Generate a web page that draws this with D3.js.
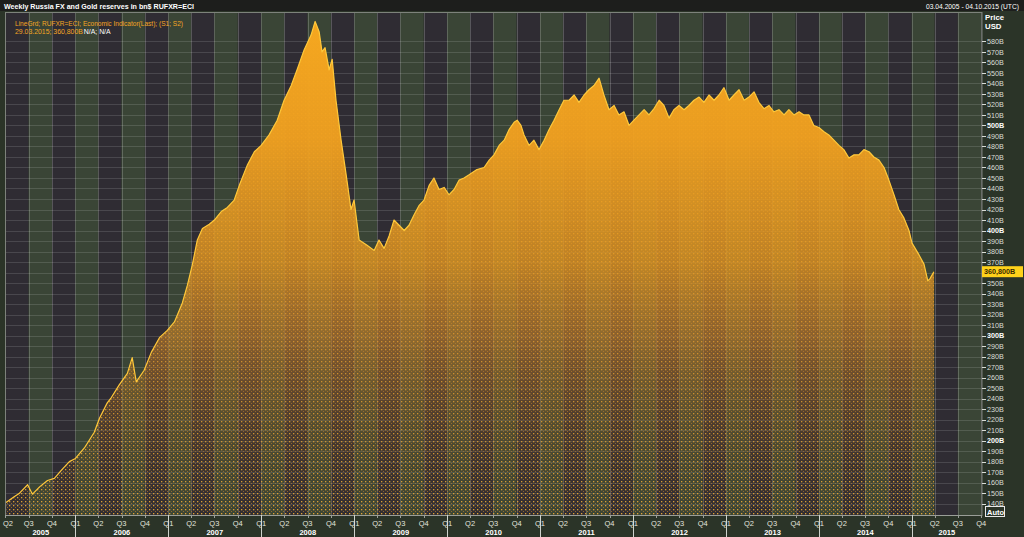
<!DOCTYPE html>
<html><head><meta charset="utf-8">
<script src="https://cdn.jsdelivr.net/npm/d3@7"></script>
<style>
html,body{margin:0;padding:0;background:#2b3428;overflow:hidden;}
svg{display:block;font-family:"Liberation Sans",Arial,sans-serif;}
</style>
</head><body>
<svg id="chart" width="1024" height="537"></svg>
<script>
// ---------- data ----------
const chartTitle = "Weekly Russia FX and Gold reserves in bn$ RUFXR=ECI";
const dateRangeText = "03.04.2005 - 04.10.2015 (UTC)";
const legendLine1 = "LineGrd; RUFXR=ECI; Economic Indicator(Last); (S1; S2)";
const legendLine2a = "29.03.2015; 360,800B";
const legendLine2b = "N/A; N/A";
const axisTitle = ["Price", "USD"];
const lastValueLabel = "360,800B";

const dates = [
"2005-04-03","2005-05-02","2005-05-26","2005-06-27","2005-07-16","2005-08-13","2005-09-13","2005-10-10","2005-11-07","2005-12-08",
"2006-01-01","2006-02-05","2006-03-16","2006-04-05","2006-05-06","2006-05-22","2006-06-22","2006-07-24","2006-08-12","2006-08-28",
"2006-09-28","2006-10-26","2006-11-27","2006-12-28","2007-01-25","2007-02-25","2007-03-17","2007-04-05","2007-04-25","2007-05-15",
"2007-06-11","2007-07-01","2007-07-28","2007-08-21","2007-09-17","2007-10-07","2007-11-07","2007-12-05","2008-01-01","2008-02-01",
"2008-03-04","2008-03-31","2008-04-28","2008-05-21","2008-06-18","2008-07-15","2008-07-31","2008-08-16","2008-08-27","2008-09-08",
"2008-09-24","2008-10-06","2008-10-21","2008-11-10","2008-11-30","2008-12-19","2008-12-31","2009-01-20","2009-02-20","2009-03-20",
"2009-04-08","2009-04-28","2009-05-18","2009-06-06","2009-06-26","2009-07-16","2009-08-04","2009-08-24","2009-09-13","2009-10-02",
"2009-10-22","2009-11-10","2009-11-30","2009-12-20","2010-01-08","2010-01-28","2010-02-17","2010-03-08","2010-03-28","2010-04-28",
"2010-05-26","2010-06-15","2010-07-04","2010-07-24","2010-08-13","2010-09-01","2010-09-21","2010-10-03","2010-10-18","2010-10-30",
"2010-11-19","2010-12-08","2010-12-28","2011-01-17","2011-02-05","2011-02-25","2011-03-17","2011-04-05","2011-04-25","2011-05-15",
"2011-06-03","2011-06-23","2011-07-12","2011-08-01","2011-08-21","2011-09-09","2011-09-29","2011-10-19","2011-11-07","2011-11-27",
"2011-12-17","2012-01-05","2012-01-25","2012-02-14","2012-03-04","2012-03-24","2012-04-13","2012-05-02","2012-05-22","2012-06-10",
"2012-06-30","2012-07-20","2012-08-08","2012-08-28","2012-09-17","2012-10-06","2012-10-26","2012-11-15","2012-12-04","2012-12-24",
"2013-01-13","2013-02-01","2013-02-21","2013-03-13","2013-04-01","2013-04-21","2013-05-10","2013-05-30","2013-06-19","2013-07-08",
"2013-07-28","2013-08-17","2013-09-05","2013-09-25","2013-10-15","2013-11-03","2013-11-23","2013-12-12","2014-01-01","2014-01-21",
"2014-02-09","2014-03-01","2014-03-21","2014-04-09","2014-04-29","2014-05-19","2014-06-07","2014-06-27","2014-07-17","2014-08-05",
"2014-08-25","2014-09-14","2014-10-03","2014-10-23","2014-11-11","2014-12-01","2014-12-21","2015-01-02","2015-01-29","2015-02-18",
"2015-03-05","2015-03-13","2015-03-29"
];
const values = [
141,146,150,158,149,156,162,164,172,180,
183,193,208,221,236,241,253,264,279,256,
267,284,298,305,313,331,348,367,391,402,
406,410,418,422,429,443,462,475,481,491,
505,524,538,553,572,586,599,589,570,574,
553,563,524,486,453,420,429,391,386,381,
391,383,395,410,405,400,405,415,424,429,
443,450,439,441,434,439,448,450,453,458,
460,467,472,481,486,496,503,505,500,491,
481,486,477,486,496,505,515,524,524,529,
522,529,534,538,545,529,515,519,510,513,
500,505,510,515,510,516,524,519,507,515,
519,515,519,524,527,522,529,524,529,536,
524,529,534,524,527,532,522,516,519,513,
515,510,515,510,513,510,510,500,498,494,
491,486,481,477,469,472,472,477,475,470,
467,460,448,434,420,412,400,388,377,368,
352,354,360.8
];
const yTickValues = d3.range(140, 581, 10);
const quarterNames = ["Q1","Q2","Q3","Q4"];
const years = [2005,2006,2007,2008,2009,2010,2011,2012,2013,2014,2015];

// ---------- layout ----------
const W = 1024, H = 537;
const L = 6, R = 982, T = 12, B = 515;
const parse = d3.utcParse("%Y-%m-%d");
const data = dates.map((d,i)=>({date:parse(d), value:values[i]}));
const domainStart = parse("2005-04-03"), domainEnd = parse("2015-10-04");

const x = d3.scaleUtc().domain([domainStart, domainEnd]).range([L, R]);
const y = d3.scaleLinear().domain([129.2, 608]).range([B, T]);

const svg = d3.select("#chart");
const defs = svg.append("defs");

// background
svg.append("rect").attr("width",W).attr("height",H).attr("fill","#2b3428");
svg.append("rect").attr("width",W).attr("height",11).attr("fill","#1d1e1c");

defs.append("clipPath").attr("id","plotClip")
  .append("rect").attr("x",L).attr("y",T).attr("width",R-L).attr("height",B-T);

const plot = svg.append("g").attr("clip-path","url(#plotClip)");

// quarter bands
const quarters = d3.utcMonth.every(3).range(parse("2005-04-01"), parse("2015-10-02"));
const bandEdges = quarters.concat([d3.utcMonth.offset(quarters[quarters.length-1],3)]);
plot.selectAll("rect.band").data(quarters).join("rect")
  .attr("class","band")
  .attr("x", d=>x(d))
  .attr("y", T)
  .attr("width", (d,i)=>x(bandEdges[i+1])-x(d))
  .attr("height", B-T)
  .attr("fill", d => (d.getUTCMonth()/3)%2===0 ? "#3a4536" : "#2f2c33");

// horizontal grid lines
plot.selectAll("line.hg").data(yTickValues).join("line")
  .attr("x1",L).attr("x2",R)
  .attr("y1",d=>Math.round(y(d))+0.5).attr("y2",d=>Math.round(y(d))+0.5)
  .attr("stroke","#ffffff").attr("stroke-opacity",0.13).attr("stroke-width",1);

// vertical grid lines
plot.selectAll("line.vg").data(quarters).join("line")
  .attr("x1",d=>Math.round(x(d))+0.5).attr("x2",d=>Math.round(x(d))+0.5)
  .attr("y1",T).attr("y2",B)
  .attr("stroke","#ffffff").attr("stroke-opacity",0.2).attr("stroke-width",1);

// fill: dot pattern + vertical gradient
const pat = defs.append("pattern").attr("id","dots").attr("patternUnits","userSpaceOnUse")
  .attr("width",4).attr("height",4);
pat.append("rect").attr("x",1).attr("y",1).attr("width",1.3).attr("height",1.3).attr("fill","#f6b335");
pat.append("rect").attr("x",3).attr("y",3).attr("width",1).attr("height",1).attr("fill","#d08a25").attr("opacity",0.7);

const grad = defs.append("linearGradient").attr("id","fillGrad")
  .attr("gradientUnits","userSpaceOnUse").attr("x1",0).attr("x2",0).attr("y1",T).attr("y2",B);
[[0,"#f6a81f",1],[0.25,"#f0a020",0.96],[0.5,"#e09522",0.8],[0.65,"#c4802a",0.6],[0.8,"#9a6422",0.32],[0.92,"#7a5020",0.14],[1,"#6a4418",0.04]]
  .forEach(s=>grad.append("stop").attr("offset",s[0]).attr("stop-color",s[1]).attr("stop-opacity",s[2]));

const area = d3.area().x(d=>x(d.date)).y0(B).y1(d=>y(d.value)).curve(d3.curveLinear);
const line = d3.line().x(d=>x(d.date)).y(d=>y(d.value)).curve(d3.curveLinear);

plot.append("path").datum(data).attr("d",area).attr("fill","url(#dots)").attr("opacity",0.9);
plot.append("path").datum(data).attr("d",area).attr("fill","url(#fillGrad)");
plot.append("path").datum(data).attr("d",line).attr("fill","none")
  .attr("stroke","#ffc83a").attr("stroke-width",1.2).attr("stroke-linejoin","round");

// plot frame
svg.append("rect").attr("x",L-0.5).attr("y",T+0.5).attr("width",R-L+0.5).attr("height",B-T)
  .attr("fill","none").attr("stroke","#7d827b").attr("stroke-width",1);

// ---------- right axis ----------
const lastV = values[values.length-1];
const ax = svg.append("g");
ax.selectAll("line.yt").data(yTickValues).join("line")
  .attr("x1",R).attr("x2",R+4)
  .attr("y1",d=>Math.round(y(d))+0.5).attr("y2",d=>Math.round(y(d))+0.5)
  .attr("stroke","#d8dcd6").attr("stroke-width",1);
// the tick label hidden under the last-value box is not drawn
ax.selectAll("text.yl").data(yTickValues.filter(v=>Math.abs(y(v)-y(lastV))>7)).join("text")
  .attr("x",R+5).attr("y",d=>y(d)+2.6)
  .attr("font-size",7.2)
  .attr("font-weight",d=>d%100===0?"bold":"normal")
  .attr("fill",d=>d%100===0?"#ffffff":"#dcdfd9")
  .text(d=>d+"B");
ax.selectAll("text.at").data(axisTitle).join("text")
  .attr("x",R+3).attr("y",(d,i)=>20+i*9)
  .attr("font-size",7.8).attr("font-weight","bold").attr("fill","#ffffff")
  .text(d=>d);

// last value label
ax.append("rect").attr("x",R).attr("y",y(lastV)-5.5).attr("width",41).attr("height",11)
  .attr("fill","#ffd21a");
ax.append("text").attr("x",R+2).attr("y",y(lastV)+2.6)
  .attr("font-size",7.2).attr("font-weight","bold").attr("fill","#3a2a00").text(lastValueLabel);

// Auto box
ax.append("rect").attr("x",R+3.5).attr("y",506.5).attr("width",19).attr("height",10)
  .attr("fill","#2b3428").attr("stroke","#e8e8e8").attr("stroke-width",1);
ax.append("text").attr("x",R+5).attr("y",514.5).attr("font-size",7.5).attr("font-weight","bold")
  .attr("fill","#ffffff").text("Auto");

// ---------- bottom axis ----------
const bx = svg.append("g");
bx.append("line").attr("x1",L-1).attr("x2",R).attr("y1",B+0.5).attr("y2",B+0.5)
  .attr("stroke","#9a9e98");
bx.selectAll("line.qt").data(quarters).join("line")
  .attr("x1",d=>Math.round(x(d))+0.5).attr("x2",d=>Math.round(x(d))+0.5)
  .attr("y1",B).attr("y2",d=>d.getUTCMonth()===0 ? H : B+3)
  .attr("stroke",d=>d.getUTCMonth()===0 ? "#cfd3cd" : "#9a9e98");
bx.selectAll("text.ql").data(quarters).join("text")
  .attr("x",d=>Math.max(x(d),8)).attr("y",B+10.5)
  .attr("text-anchor","middle").attr("font-size",7.5).attr("fill","#e2e5df")
  .text(d=>quarterNames[d.getUTCMonth()/3]);
bx.selectAll("text.yr").data(years).join("text")
  .attr("x",yr=>{
    const a = Math.max(x(Date.UTC(yr,0,1)), L), b = Math.min(x(Date.UTC(yr+1,0,1)), R);
    return (a+b)/2;
  })
  .attr("y",B+19.5)
  .attr("text-anchor","middle").attr("font-size",7.5).attr("font-weight","bold").attr("fill","#ffffff")
  .text(d=>d);

// ---------- title + legend ----------
svg.append("text").attr("x",4).attr("y",8.5).attr("font-size",7.6).attr("font-weight","bold")
  .attr("fill","#ffffff").attr("textLength",190).attr("lengthAdjust","spacingAndGlyphs").text(chartTitle);
svg.append("text").attr("x",1019).attr("y",8.5).attr("text-anchor","end").attr("font-size",6.7)
  .attr("fill","#ffffff").text(dateRangeText);
svg.append("text").attr("x",15).attr("y",25.5).attr("font-size",7.6).attr("fill","#f5a623")
  .attr("textLength",168).attr("lengthAdjust","spacingAndGlyphs").text(legendLine1);
const leg2a = svg.append("text").attr("x",15).attr("y",33.5).attr("font-size",6.9)
  .attr("fill","#f5a623").text(legendLine2a);
const w2a = leg2a.node().getComputedTextLength();
svg.append("text").attr("x",15 + w2a + 1).attr("y",33.5).attr("font-size",6.9)
  .attr("fill","#ffffff").text(legendLine2b);
</script>
</body></html>
